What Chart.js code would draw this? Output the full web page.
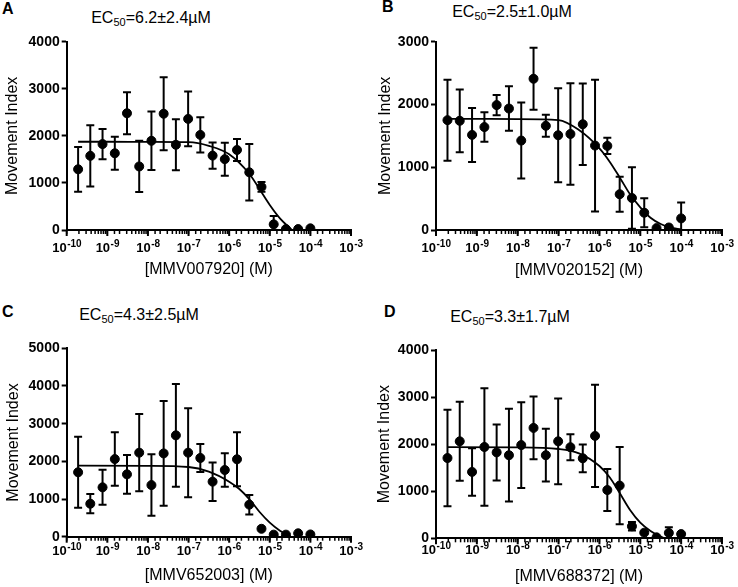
<!DOCTYPE html>
<html>
<head>
<meta charset="utf-8">
<script src="https://cdn.jsdelivr.net/npm/chart.js@4.4.1/dist/chart.umd.min.js"></script>
<style>
body { margin: 0; background: #fff; width: 738px; height: 587px; position: relative; overflow: hidden;
       font-family: 'Liberation Sans', Arial, sans-serif; color: #000; }
canvas { position: absolute; }
.lab { position: absolute; font-weight: bold; font-size: 16px; line-height: 16px; }
.ec { position: absolute; font-size: 16px; line-height: 16px; white-space: nowrap; transform: translateX(-50%); }
.ec sub { font-size: 11px; vertical-align: -3px; line-height: 0; }
</style>
</head>
<body>
<div class="lab" style="left:2px;top:1px">A</div>
<div class="lab" style="left:382px;top:-1px">B</div>
<div class="lab" style="left:2px;top:304px">C</div>
<div class="lab" style="left:384px;top:304px">D</div>
<div class="ec" style="left:151px;top:10px">EC<sub>50</sub>=6.2±2.4µM</div>
<div class="ec" style="left:512px;top:4px">EC<sub>50</sub>=2.5±1.0µM</div>
<div class="ec" style="left:139px;top:307px">EC<sub>50</sub>=4.3±2.5µM</div>
<div class="ec" style="left:510px;top:309px">EC<sub>50</sub>=3.3±1.7µM</div>
<canvas id="cA" width="369" height="290" style="left:0;top:0"></canvas>
<canvas id="cB" width="369" height="290" style="left:369px;top:0"></canvas>
<canvas id="cC" width="369" height="297" style="left:0;top:290px"></canvas>
<canvas id="cD" width="369" height="297" style="left:369px;top:290px"></canvas>
<script>
// concentrations (M), 2-fold dilution series
const doses = [1.91e-10, 3.81e-10, 7.63e-10, 1.53e-9, 3.05e-9, 6.10e-9, 1.22e-8, 2.44e-8, 4.88e-8, 9.77e-8,
               1.95e-7, 3.91e-7, 7.81e-7, 1.56e-6, 3.13e-6, 6.25e-6, 1.25e-5, 2.5e-5, 5e-5, 1e-4];
const xTickExps = [-10, -9, -8, -7, -6, -5, -4, -3];

// panel A - MMV007920
const meanA = [1290, 1575, 1825, 1630, 2480, 1350, 1895, 2470, 1810, 2360, 2020, 1580, 1505, 1700, 1225, 915, 120, 20, 20, 35];
const sdA   = [475, 650, 320, 350, 445, 545, 620, 775, 540, 580, 375, 280, 350, 235, 600, 105, 180, 0, 0, 0];
const fitXA = [1.91e-10, 1e-9, 1e-8, 1e-7, 3.16e-7, 1e-6, 3.16e-6, 5.62e-6, 1e-5, 1.78e-5, 3.5e-5];
const fitYA = [1875, 1875, 1872, 1865, 1787, 1610, 1190, 865, 532, 248, 0];

// panel B - MMV020152
const meanB = [1750, 1740, 1515, 1640, 1990, 1935, 1425, 2410, 1660, 1510, 1530, 1685, 1345, 1340, 570, 510, 275, 30, 40, 185];
const sdB   = [645, 500, 430, 235, 160, 355, 605, 495, 175, 750, 810, 650, 1050, 130, 280, 490, 230, 0, 0, 255];
const fitXB = [1.91e-10, 1e-8, 1e-7, 3.16e-7, 1e-6, 1.78e-6, 3.16e-6, 5.62e-6, 1e-5, 1.78e-5, 3.16e-5, 5.62e-5, 1e-4];
const fitYB = [1770, 1768, 1752, 1593, 1301, 1089, 834, 568, 361, 196, 96, 37, 11];

// panel C - MMV652003
const meanC = [1710, 875, 1310, 2060, 1655, 2230, 1370, 2210, 2690, 2230, 2090, 1460, 1770, 2055, 850, 210, 55, 55, 90, 60];
const sdC   = [945, 255, 465, 710, 515, 1025, 815, 1390, 1365, 1180, 370, 510, 445, 715, 260, 0, 0, 0, 0, 0];
const fitXC = [1.91e-10, 1e-8, 1e-7, 3.16e-7, 1e-6, 1.78e-6, 3.16e-6, 5.62e-6, 1e-5, 1.78e-5, 3.3e-5];
const fitYC = [1885, 1880, 1850, 1726, 1460, 1265, 991, 655, 372, 159, 0];

// panel D - MMV688372
const meanD = [1705, 2060, 1410, 1940, 1825, 1765, 1980, 2345, 1765, 2060, 1935, 1700, 2175, 1025, 1120, 255, 120, 20, 115, 90];
const sdD   = [1025, 840, 505, 1250, 595, 985, 910, 665, 560, 910, 275, 295, 1085, 445, 820, 90, 0, 0, 120, 0];
const fitXD = [1.91e-10, 1e-8, 1e-7, 3.16e-7, 1e-6, 1.78e-6, 3.16e-6, 5.62e-6, 1e-5, 1.78e-5, 3.16e-5, 4e-5];
const fitYD = [1935, 1932, 1897, 1805, 1536, 1296, 956, 602, 333, 156, 35, 0];

const FONT = "'Liberation Sans', Arial, sans-serif";

// error bars (mean +/- SD) drawn through the chart scales
const errorBars = {
  id: 'errorBars',
  afterDatasetsDraw(chart) {
    const {ctx, chartArea, scales: {x, y}} = chart;
    ctx.save();
    ctx.beginPath();
    ctx.rect(chartArea.left - 10, chartArea.top - 10, chartArea.right - chartArea.left + 20, chartArea.bottom - chartArea.top + 10);
    ctx.clip();
    ctx.strokeStyle = '#000';
    ctx.lineWidth = 2;
    chart.data.datasets[0].data.forEach(p => {
      if (!p.sd) return;
      const px = x.getPixelForValue(p.x);
      const hi = y.getPixelForValue(p.y + p.sd);
      const lo = y.getPixelForValue(p.y - p.sd);
      ctx.beginPath();
      ctx.moveTo(px, hi); ctx.lineTo(px, lo);
      ctx.moveTo(px - 4, hi); ctx.lineTo(px + 4, hi);
      ctx.moveTo(px - 4, lo); ctx.lineTo(px + 4, lo);
      ctx.stroke();
    });
    ctx.restore();
  }
};

// log axis ticks (major + minor) and 10^n labels
const logAxis = {
  id: 'logAxis',
  afterDraw(chart, args, opts) {
    const {ctx, scales: {x}} = chart;
    const y0 = x.top;
    ctx.save();
    ctx.strokeStyle = '#000';
    ctx.lineWidth = 1.5;
    x.ticks.forEach(t => {
      const px = x.getPixelForValue(t.value);
      ctx.beginPath(); ctx.moveTo(px, y0); ctx.lineTo(px, y0 + 4); ctx.stroke();
    });
    ctx.lineWidth = 2;
    ctx.fillStyle = '#000';
    ctx.textBaseline = 'alphabetic';
    ctx.textAlign = 'left';
    xTickExps.forEach(e => {
      const px = x.getPixelForValue(Math.pow(10, e));
      ctx.beginPath(); ctx.moveTo(px, y0); ctx.lineTo(px, y0 + 6); ctx.stroke();
      const base = '10', ex = String(e);
      ctx.font = 'bold 13px ' + FONT;
      const w1 = ctx.measureText(base).width;
      ctx.font = 'bold 10px ' + FONT;
      const w2 = ctx.measureText(ex).width;
      const left = px - (w1 + w2) / 2;
      ctx.font = 'bold 13px ' + FONT;
      ctx.fillText(base, left, y0 + opts.labelY);
      ctx.font = 'bold 10px ' + FONT;
      ctx.fillText(ex, left + w1 + 0.5, y0 + opts.labelY - 5);
    });
    ctx.restore();
  }
};

function makePanel(id, means, sds, fitX, fitY, yMax, xTitle, g) {
  const pts = doses.map((d, i) => ({x: d, y: means[i], sd: sds[i]}));
  const fit = fitX.map((d, i) => ({x: d, y: fitY[i]}));
  new Chart(id, {
    type: 'scatter',
    data: {
      datasets: [{
        data: pts,
        backgroundColor: '#000',
        borderColor: '#000',
        pointRadius: 4.5,
        pointHoverRadius: 4.5
      }, {
        data: fit,
        showLine: true,
        borderColor: '#000',
        borderWidth: 1.8,
        pointRadius: 0,
        cubicInterpolationMode: 'monotone'
      }]
    },
    options: {
      responsive: false,
      animation: false,
      devicePixelRatio: 1,
      layout: {padding: {left: 0, top: g.top, right: g.right, bottom: 0}},
      plugins: {
        legend: {display: false},
        tooltip: {enabled: false},
        logAxis: {labelY: g.labelY}
      },
      scales: {
        x: {
          type: 'logarithmic',
          min: 1e-10,
          max: 1e-3,
          grid: {display: false},
          border: {display: true, width: 2, color: '#000'},
          ticks: {display: false},
          title: {display: true, text: xTitle, color: '#000', font: {family: FONT, size: 16}, padding: {top: 0, bottom: g.xPad}},
          afterFit(s) { s.height = g.xh; }
        },
        y: {
          min: 0,
          max: yMax,
          grid: {display: true, drawOnChartArea: false, drawTicks: true, tickLength: 5, tickWidth: 2, tickColor: '#000'},
          border: {display: true, width: 2, color: '#000'},
          ticks: {stepSize: 1000, color: '#000', padding: 2, font: {family: FONT, size: 14, weight: 'bold'},
                  callback: v => String(v)},
          title: {display: true, text: 'Movement Index', color: '#000', font: {family: FONT, size: 16}, padding: {top: g.yPad, bottom: 0}},
          afterFit(s) { s.width = g.yw; }
        }
      }
    },
    plugins: [errorBars, logAxis]
  });
}

makePanel('cA', meanA, sdA, fitXA, fitYA, 4000, '[MMV007920] (M)',
  {top: 41.7, right: 18, xh: 60, yw: 66.7, yPad: 3.4, xPad: 10.4, labelY: 22});
makePanel('cB', meanB, sdB, fitXB, fitYB, 3000, '[MMV020152] (M)',
  {top: 41.7, right: 16, xh: 60, yw: 67, yPad: 7, xPad: 9.4, labelY: 22});
makePanel('cC', meanC, sdC, fitXC, fitYC, 5000, '[MMV652003] (M)',
  {top: 58.3, right: 18, xh: 50.3, yw: 66.7, yPad: 4.4, xPad: 1.7, labelY: 18});
makePanel('cD', meanD, sdD, fitXD, fitYD, 4000, '[MMV688372] (M)',
  {top: 60, right: 16, xh: 48.7, yw: 67, yPad: 6.4, xPad: 0.7, labelY: 16});
</script>
</body>
</html>
